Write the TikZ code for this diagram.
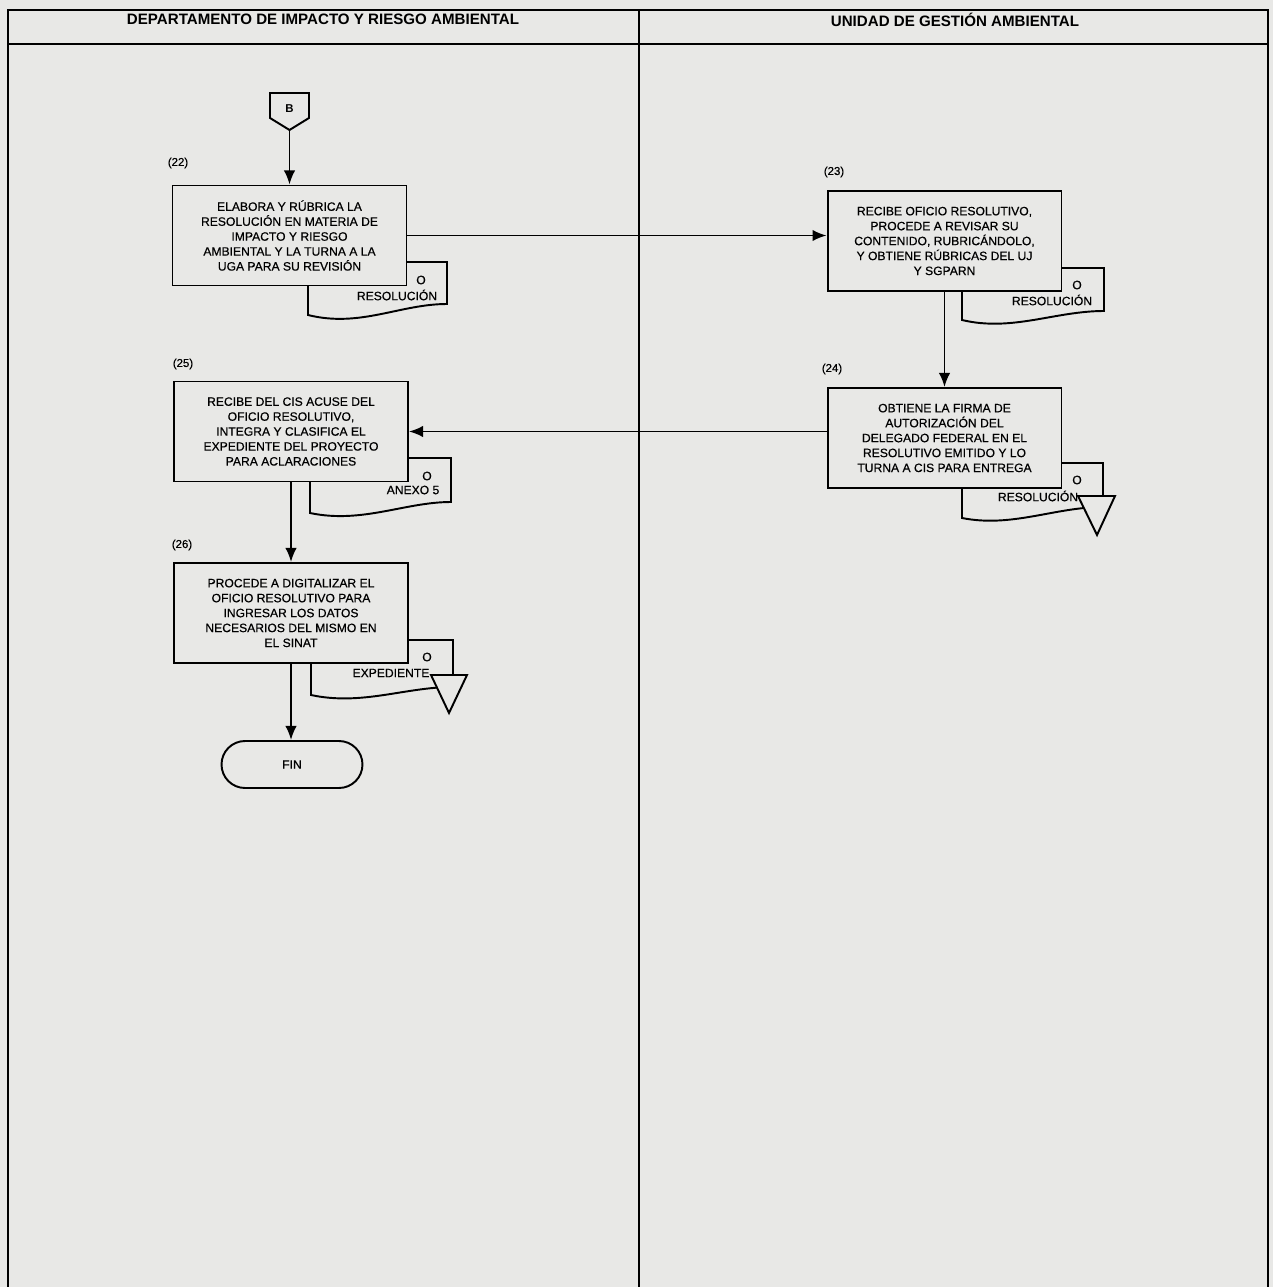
\documentclass[tikz,border=0pt]{standalone}
\usepackage{fontspec}
\setmainfont{Liberation Sans}
\newfontfamily\cajafont[FakeBold=0.5]{Liberation Sans}
\usetikzlibrary{arrows.meta}
\definecolor{papel}{RGB}{232,232,230}

\tikzset{
  caja/.style={draw,line width=1.1pt,fill=papel,minimum width=4.68cm,minimum height=2cm,
    align=center,inner sep=0pt,font=\cajafont\fontsize{6.9}{8.5}\selectfont},
  numero/.style={inner sep=0pt,font=\cajafont\fontsize{6.5}{8}\selectfont},
  doctexto/.style={inner sep=0pt,font=\cajafont\fontsize{6.9}{8}\selectfont},
  documento/.style={draw,line width=1.1pt,fill=papel},
  flecha/.style={-{Latex[length=8pt,width=6.5pt]},line width=1.1pt},
  titulo/.style={inner sep=0pt,font=\bfseries\fontsize{8.6}{10}\selectfont},
}

\begin{document}
\begin{tikzpicture}[x=0.02cm,y=-0.02cm]
    \useasboundingbox (0,0) rectangle (1273,1287);
    \fill[papel] (0,0) rectangle (1273,1287);

    % carriles
    \draw[line width=0.9pt] (8,1287) -- (8,10) -- (1268,10) -- (1268,1287);
    \draw[line width=1.2pt] (8,44) -- (1268,44);
    \draw[line width=0.9pt] (639,10) -- (639,1287);
    \node[titulo] (depto) at (323,19) {DEPARTAMENTO DE IMPACTO Y RIESGO AMBIENTAL};
    \node[titulo] (uga) at (955,20) {UNIDAD DE GESTIÓN AMBIENTAL};

    % conector B
    \draw[line width=1.1pt] (270,93) -- (309,93) -- (309,118) -- (289.5,130) -- (270,118) -- cycle;
    \node[inner sep=0pt,font=\bfseries\fontsize{6.5}{8}\selectfont] (conectorB) at (289.5,109) {B};
    \coordinate (puntaB) at (289.5,130);

    % documentos
    \draw[documento] (308,262) -- (447,262) -- (447,304) .. controls (400,304) and (360,328) .. (308,315) -- cycle;
    \node[doctexto] (o22) at (421,280) {O};
    \node[doctexto] (doc22) at (397,295) {RESOLUCIÓN};

    \draw[documento] (962,268) -- (1104,268) -- (1104,311) .. controls (1055,311) and (1012,332) .. (962,320) -- cycle;
    \node[doctexto] (o23) at (1077,285) {O};
    \node[doctexto] (doc23) at (1052,300) {RESOLUCIÓN};

    \draw[documento] (962,463) -- (1103,463) -- (1103,507) .. controls (1055,507) and (1012,528) .. (962,518) -- cycle;
    \node[doctexto] (o24) at (1077,480) {O};
    \node[doctexto] (doc24) at (1038,496) {RESOLUCIÓN};
    \draw[documento] (1078,496) -- (1115,496) -- (1097,535) -- cycle;

    \draw[documento] (310,458) -- (451,458) -- (451,502) .. controls (405,502) and (362,524) .. (310,513) -- cycle;
    \node[doctexto] (o25) at (427,476) {O};
    \node[doctexto] (doc25) at (413,490) {ANEXO 5};

    \draw[documento] (311,640) -- (453,640) -- (453,687) .. controls (405,687) and (362,706) .. (311,695) -- cycle;
    \node[doctexto] (o26) at (427,657) {O};
    \node[doctexto] (doc26) at (391,673) {EXPEDIENTE};
    \draw[documento] (431,675) -- (467,675) -- (449,713) -- cycle;

    % actividades
    \node[numero] (n22) at (178,163) {(22)};
    \node[caja] (b22) at (289.5,235.5) {ELABORA Y RÚBRICA LA\\RESOLUCIÓN EN MATERIA DE\\IMPACTO Y RIESGO\\AMBIENTAL Y LA TURNA A LA\\UGA PARA SU REVISIÓN};

    \node[numero] (n23) at (834,172) {(23)};
    \node[caja] (b23) at (944.5,241) {RECIBE OFICIO RESOLUTIVO,\\PROCEDE A REVISAR SU\\CONTENIDO, RUBRICÁNDOLO,\\Y OBTIENE RÚBRICAS DEL UJ\\Y SGPARN};

    \node[numero] (n24) at (832,369) {(24)};
    \node[caja] (b24) at (944.5,438) {OBTIENE LA FIRMA DE\\AUTORIZACIÓN DEL\\DELEGADO FEDERAL EN EL\\RESOLUTIVO EMITIDO Y LO\\TURNA A CIS PARA ENTREGA};

    \node[numero] (n25) at (183,364) {(25)};
    \node[caja] (b25) at (291,431.5) {RECIBE DEL CIS ACUSE DEL\\OFICIO RESOLUTIVO,\\INTEGRA Y CLASIFICA EL\\EXPEDIENTE DEL PROYECTO\\PARA ACLARACIONES};

    \node[numero] (n26) at (182,545) {(26)};
    \node[caja] (b26) at (291,613) {PROCEDE A DIGITALIZAR EL\\OFICIO RESOLUTIVO PARA\\INGRESAR LOS DATOS\\NECESARIOS DEL MISMO EN\\EL SINAT};

    \node[draw,line width=1.1pt,fill=papel,rounded corners=0.47cm,minimum width=2.82cm,minimum height=0.94cm,
      font=\cajafont\fontsize{6.9}{8}\selectfont] (fin) at (292,764.5) {FIN};

    % flujo
    \draw[flecha] (puntaB) -- (puntaB |- b22.north);
    \draw[flecha] (b22.east) -- (b22.east -| b23.west);
    \draw[flecha] (b23.south) -- (b24.north);
    \draw[flecha] (b24.west |- b25.east) -- (b25.east);
    \draw[flecha] (b25.south) -- (b26.north);
    \draw[flecha] (b26.south) -- (b26.south |- fin.north);

\end{tikzpicture}
\end{document}
